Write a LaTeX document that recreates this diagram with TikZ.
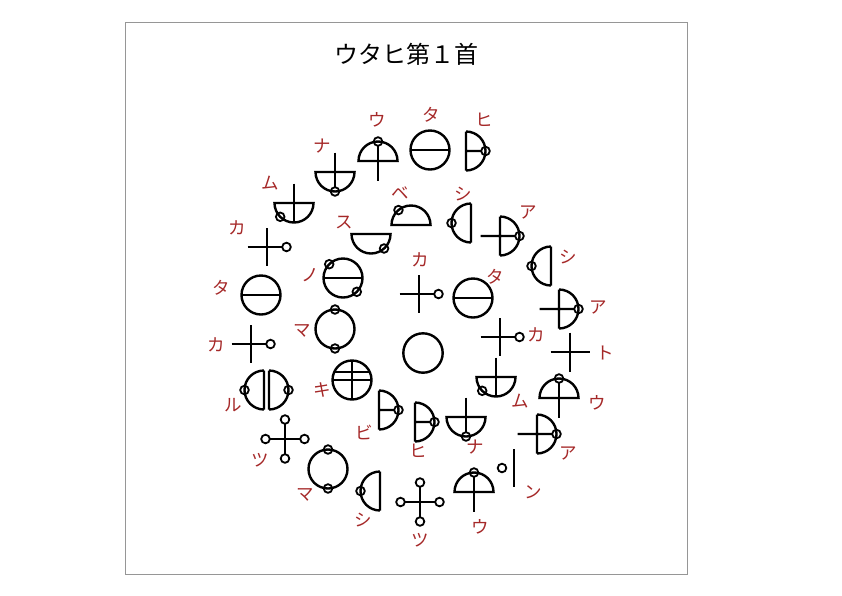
\documentclass[tikz,border=0pt]{standalone}
\usepackage{fontspec}
\newfontfamily\jp{Noto Sans CJK JP}
\definecolor{labred}{RGB}{165,40,40}
\definecolor{framegray}{RGB}{150,150,150}
\tikzset{
  gl/.style={line width=2.4pt},
  sm/.style={line width=1.8pt},
  lab/.style={text=labred, font=\jp\fontsize{17.5}{17.5}\selectfont, inner sep=0pt},
  titlestyle/.style={text=black, font=\jp\fontsize{24}{24}\selectfont, inner sep=0pt},
  tapic/.pic={\draw[gl] (0,0) circle (19.5); \draw[gl] (-19.5,0)--(19.5,0);},
  circpic/.pic={\draw[gl] (0,0) circle (19.7);},
  kapic/.pic={\draw[gl] (-19.5,0)--(15.2,0) (0,19)--(0,-19); \draw[sm] (19.5,0) circle (4.3);},
  topic/.pic={\draw[gl] (-19.5,0)--(19.5,0) (0,19.5)--(0,-19.5);},
  tsupic/.pic={\draw[gl] (-15.2,0)--(15.2,0) (0,15.2)--(0,-15.2);
     \foreach \a in {0,90,180,270} \draw[sm] (\a:19.5) circle (4.3);},
  hipic/.pic={\draw[gl] (0,19.5)--(0,-19.5) (0,19.5) arc (90:-90:19.5) (0,0)--(15.2,0); \draw[sm] (19.5,0) circle (4.3);},
  bipic/.pic={\draw[gl] (0,19.5)--(0,-19.5) (0,19.5) arc (90:-90:19.5) (0,0)--(15.2,0); \draw[sm] (19.5,0) circle (4.3);},
  apic/.pic={\draw[gl] (0,19.5)--(0,-19.5) (0,19.5) arc (90:-90:19.5) (-19.5,0)--(15.2,0); \draw[sm] (19.5,0) circle (4.3);},
  shipic/.pic={\draw[gl] (0,19.5)--(0,-19.5) (0,19.5) arc (90:270:19.5); \draw[sm] (-19.5,0) circle (4.3);},
  upic/.pic={\draw[gl] (-19.5,0) -- (19.5,0) arc (0:180:19.5) -- cycle; \draw[gl] (0,15.2)--(0,-19.5); \draw[sm] (0,19.5) circle (4.3);},
  napic/.pic={\draw[gl] (-19.5,0) -- (19.5,0) arc (0:-180:19.5) -- cycle; \draw[gl] (0,19.5)--(0,-15.2); \draw[sm] (0,-19.5) circle (4.3);},
  mupic/.pic={\draw[gl] (-19.5,0) -- (19.5,0) arc (0:-180:19.5) -- cycle; \draw[gl] (0,19.5)--(0,-19.5); \draw[sm] (225:19.5) circle (4.3);},
  bepic/.pic={\draw[gl] (-19.5,0) -- (19.5,0) arc (0:180:19.5) -- cycle; \draw[sm] (130:19.5) circle (4.3);},
  supic/.pic={\draw[gl] (-19.5,0) -- (19.5,0) arc (0:-180:19.5) -- cycle; \draw[sm] (-48:19.5) circle (4.3);},
  nopic/.pic={\draw[gl] (0,0) circle (19.5); \draw[gl] (-19.5,0)--(19.5,0); \draw[sm] (135:19.5) circle (4.3) (-45:19.5) circle (4.3);},
  mapic/.pic={\draw[gl] (0,0) circle (19.5); \draw[sm] (90:19.5) circle (4.3) (270:19.5) circle (4.3);},
  kipic/.pic={\draw[gl] (0,0) circle (19.5); \draw[gl] (-19.5,0)--(19.5,0) (0,19.5)--(0,-19.5) (-17.8,8)--(17.8,8);},
  rupic/.pic={\draw[gl] (-2.5,19.5)--(-2.5,-19.5) (-2.5,19.5) arc (90:270:19.5)
      (2.5,19.5)--(2.5,-19.5) (2.5,19.5) arc (90:-90:19.5);
      \draw[sm] (-22,0) circle (4.3) (22,0) circle (4.3);},
  npic/.pic={\draw[gl] (0,18.7)--(0,-18.7); \draw[sm] (-12,0) circle (4.3);},
}
\begin{document}
\begin{tikzpicture}[x=1pt,y=1pt]
\useasboundingbox (0,0) rectangle (842,-595);
\draw[framegray, line width=0.8pt] (125,-22) rectangle (687,-574);
\node[titlestyle] (title) at (406,-54) {ウタヒ第１首};
% glyphs
\pic at (378,-161) {upic};
\pic at (430,-150) {tapic};
\pic at (466,-151) {hipic};
\pic at (335,-172) {napic};
\pic at (294,-203) {mupic};
\pic at (267,-247) {kapic};
\pic at (261,-295) {tapic};
\pic at (251,-344) {kapic};
\pic at (266.5,-390) {rupic};
\pic at (285,-439) {tsupic};
\pic at (328,-469) {mapic};
\pic at (380,-491) {shipic};
\pic at (420,-502) {tsupic};
\pic at (474,-492) {upic};
\pic at (514,-468) {npic};
\pic at (537,-434) {apic};
\pic at (559,-398) {upic};
\pic at (570,-352) {topic};
\pic at (559,-309) {apic};
\pic at (551,-266) {shipic};
\pic at (500,-236) {apic};
\pic at (471,-223) {shipic};
\pic at (411,-225) {bepic};
\pic at (371,-234) {supic};
\pic at (343,-278) {nopic};
\pic at (335,-329) {mapic};
\pic at (352,-380) {kipic};
\pic at (379,-410) {bipic};
\pic at (415,-422) {hipic};
\pic at (466,-417) {napic};
\pic at (496,-377) {mupic};
\pic at (500,-337) {kapic};
\pic at (473,-298) {tapic};
\pic at (419,-294) {kapic};
\pic at (423,-353) {circpic};
% labels
\node[lab] (l1) at (377,-120) {ウ};
\node[lab] (l2) at (431,-115) {タ};
\node[lab] (l3) at (484,-120) {ヒ};
\node[lab] (l4) at (322,-146) {ナ};
\node[lab] (l5) at (270,-183) {ム};
\node[lab] (l6) at (237,-228) {カ};
\node[lab] (l7) at (221,-288) {タ};
\node[lab] (l8) at (216,-345) {カ};
\node[lab] (l9) at (233,-405) {ル};
\node[lab] (l10) at (260,-460) {ツ};
\node[lab] (l11) at (305,-495) {マ};
\node[lab] (l12) at (363,-520) {シ};
\node[lab] (l13) at (420,-540) {ツ};
\node[lab] (l14) at (480,-527) {ウ};
\node[lab] (l15) at (533,-492) {ン};
\node[lab] (l16) at (568,-453) {ア};
\node[lab] (l17) at (597,-403) {ウ};
\node[lab] (l18) at (605,-353) {ト};
\node[lab] (l19) at (598,-307) {ア};
\node[lab] (l20) at (568,-257) {シ};
\node[lab] (l21) at (528,-212) {ア};
\node[lab] (l22) at (463,-194) {シ};
\node[lab] (l23) at (400,-193) {ベ};
\node[lab] (l24) at (344,-223) {ス};
\node[lab] (l25) at (310,-275) {ノ};
\node[lab] (l26) at (302,-331) {マ};
\node[lab] (l27) at (322,-390) {キ};
\node[lab] (l28) at (364,-432) {ビ};
\node[lab] (l29) at (418,-451) {ヒ};
\node[lab] (l30) at (475,-447) {ナ};
\node[lab] (l31) at (520,-401) {ム};
\node[lab] (l32) at (536,-335) {カ};
\node[lab] (l33) at (495,-277) {タ};
\node[lab] (l34) at (420,-260) {カ};
\end{tikzpicture}
\end{document}
